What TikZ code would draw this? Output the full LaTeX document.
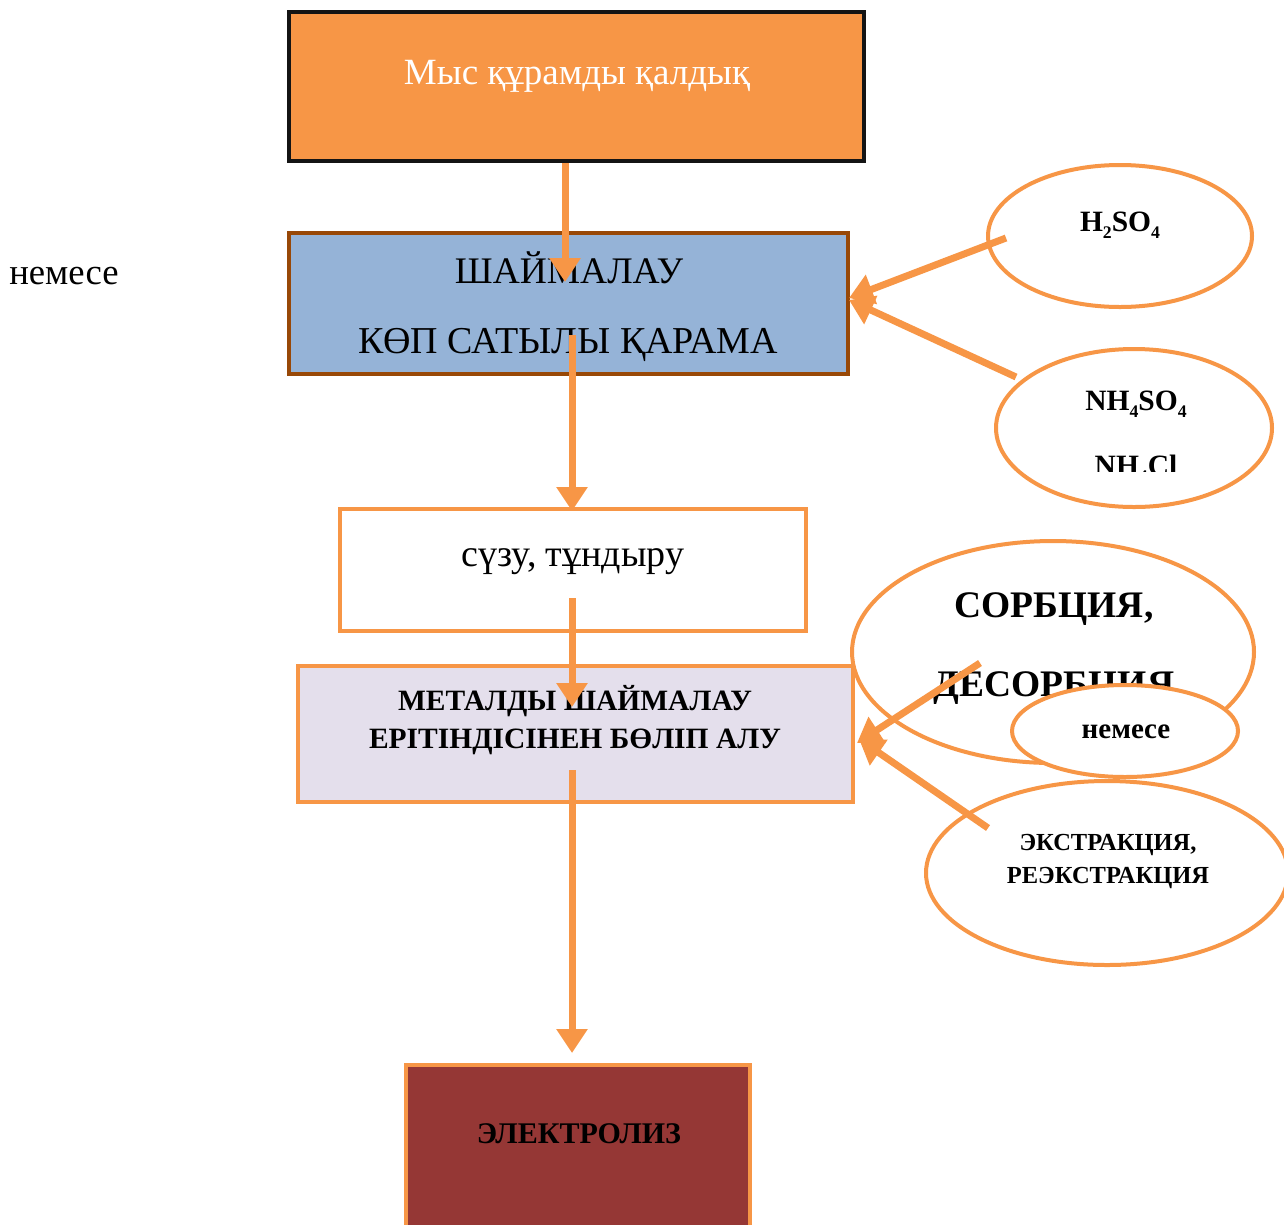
\documentclass[tikz,border=0pt]{standalone}
\usepackage{fontspec}
\setmainfont{Liberation Serif}
\usetikzlibrary{arrows.meta,shapes.geometric}
\definecolor{org}{HTML}{F79646}
\definecolor{blu}{HTML}{95B3D7}
\definecolor{brn}{HTML}{984807}
\definecolor{lav}{HTML}{E4DFEC}
\definecolor{rdb}{HTML}{953735}
\newcommand{\chsub}[1]{\raisebox{-0.22em}{\scalebox{0.6}{#1}}}
\newcommand{\fs}[1]{\fontsize{#1}{#1}\selectfont}
\tikzset{
  boxshape/.style={rectangle, line width=4pt, inner sep=0pt},
  ell/.style={ellipse, draw=org, line width=4pt, fill=white, inner sep=0pt},
  flow/.style={draw=org, line width=7pt, -{Triangle[length=24pt,width=30pt]}},
  txt/.style={inner sep=0pt, align=center},
}
\begin{document}
\begin{tikzpicture}[x=1pt,y=-1pt]
\useasboundingbox (0,0) rectangle (1284,1224);
% boxes
\node[boxshape, draw=black!92, fill=org, minimum width=575pt, minimum height=149pt] (b1) at (576.5,86.5) {};
\node[boxshape, draw=brn, fill=blu, minimum width=559pt, minimum height=141pt] (b2) at (568.5,303.5) {};
\node[boxshape, draw=org, fill=white, minimum width=466pt, minimum height=122pt] (b3) at (573,570) {};
\node[boxshape, draw=org, fill=lav, minimum width=555pt, minimum height=136pt] (b4) at (575.5,734) {};
\node[boxshape, draw=org, fill=rdb, minimum width=344pt, minimum height=200pt] (b5) at (578,1165) {};
% texts in boxes
\node[txt, white] (t1) at (577,76) {\fs{37}Мыс құрамды қалдық};
\node[txt] (t2a) at (569,268) {\fs{37.5}ШАЙМАЛАУ};
\node[txt] (t2b) at (568,345) {\fs{38}КӨП САТЫЛЫ ҚАРАМА};
\node[txt] (t3) at (573,562) {\fs{38}сүзу, тұндыру};
\node[txt] (t4a) at (575,701) {\fs{29.5}\bfseries МЕТАЛДЫ ШАЙМАЛАУ};
\node[txt] (t4b) at (575,742) {\fs{29.5}\bfseries ЕРІТІНДІСІНЕН БӨЛІП АЛУ};
\node[txt] (t5) at (579,1134) {\fs{30}\bfseries ЭЛЕКТРОЛИЗ};
\node[txt] (nem) at (64,276) {\fs{36.7}немесе};
% ellipses
\node[ell, minimum width=264pt, minimum height=142pt] (e1) at (1120,236) {};
\node[txt] (e1t) at (1120,225) {\fs{29.5}\bfseries H\chsub{2}SO\chsub{4}};
\node[ell, minimum width=276pt, minimum height=158pt] (e2) at (1134,428) {};
\node[txt] (e2t) at (1136,404) {\fs{29.5}\bfseries NH\chsub{4}SO\chsub{4}};
\begin{scope}
\clip (1000,440) rectangle (1284,471);
\node[txt] (e2u) at (1136,469) {\fs{29.5}\bfseries NH\chsub{4}Cl};
\end{scope}
\node[ell, minimum width=402pt, minimum height=222pt] (e3) at (1053,652) {};
\node[txt] (e3a) at (1054,609) {\fs{37.5}\bfseries СОРБЦИЯ,};
\node[txt] (e3b) at (1054,688) {\fs{37.5}\bfseries ДЕСОРБЦИЯ};
\node[ell, minimum width=226pt, minimum height=92pt] (e4) at (1125,731) {};
\node[txt] (e4t) at (1126,732) {\fs{29}\bfseries немесе};
\node[ell, minimum width=362pt, minimum height=184pt] (e5) at (1107,873) {};
\node[txt] (e5a) at (1108,845) {\fs{24.5}\bfseries ЭКСТРАКЦИЯ,};
\node[txt] (e5b) at (1108,878) {\fs{24.5}\bfseries РЕЭКСТРАКЦИЯ};
% arrow coordinates
\coordinate (a1s) at (b1.south -| 565,0);
\coordinate (a1e) at (565,282);
\coordinate (a2s) at (572,335);
\coordinate (a2e) at (572,511);
\coordinate (a3s) at (572,598);
\coordinate (a3e) at (572,707);
\coordinate (a4s) at (572,770);
\coordinate (a4e) at (572,1053);
\coordinate (a5s) at (1006,238);
\coordinate (a5e) at (849,298);
\coordinate (a6s) at (1016,377);
\coordinate (a6e) at (849,300);
\coordinate (a7s) at (980,663);
\coordinate (a7e) at (857,743);
\coordinate (a8s) at (988,828);
\coordinate (a8e) at (859,739);
% arrows
\draw[flow] (a1s) -- (a1e);
\draw[flow] (a2s) -- (a2e);
\draw[flow] (a3s) -- (a3e);
\draw[flow] (a4s) -- (a4e);
\draw[flow] (a5s) -- (a5e);
\draw[flow] (a6s) -- (a6e);
\draw[flow] (a7s) -- (a7e);
\draw[flow] (a8s) -- (a8e);
\end{tikzpicture}
\end{document}
